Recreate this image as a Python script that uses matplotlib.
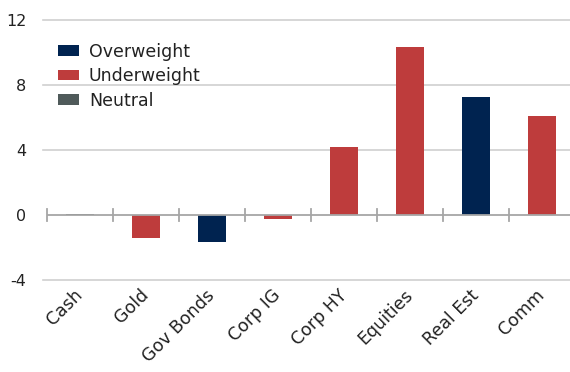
import matplotlib
matplotlib.use("Agg")
import matplotlib.pyplot as plt
from matplotlib.patches import Patch

# Positioning by asset class
categories = ["Cash", "Gold", "Gov Bonds", "Corp IG", "Corp HY", "Equities", "Real Est", "Comm"]
values = [0.05, -1.4, -1.64, -0.22, 4.18, 10.34, 7.26, 6.09]
stance = ["Neutral", "Underweight", "Overweight", "Underweight",
          "Underweight", "Underweight", "Overweight", "Underweight"]
y_ticks = [-4, 0, 4, 8, 12]

colors = {"Overweight": "#002350", "Underweight": "#BE3C3C", "Neutral": "#4F5A5A"}

plt.rcParams["font.family"] = ["DejaVu Sans"]
fig = plt.figure(figsize=(5.70, 3.72), dpi=100)
ax = fig.add_axes([47 / 570, 1 - 280 / 372, 528 / 570, 260 / 372])

x = list(range(len(categories)))
ax.bar(x, values, width=0.41, color=[colors[s] for s in stance], zorder=3)

ax.set_xlim(-0.5, len(categories) - 0.5)
ax.set_ylim(y_ticks[0], y_ticks[-1])
ax.set_yticks(y_ticks)
ax.set_yticklabels([str(v) for v in y_ticks])
# gridlines reach slightly left of the category axis
for v in y_ticks:
    if v != 0:
        ax.axhline(v, xmin=-0.008, xmax=1, color="#D0D0D0", linewidth=1.2,
                   zorder=0, clip_on=False)
ax.tick_params(axis="y", length=0, pad=15, labelsize=11.5, labelcolor="#222222")

# Category axis drawn at zero with boundary tick marks
ax.axhline(0, color="#A6A6A6", linewidth=1.3, zorder=4)
for b in range(len(categories) + 1):
    ax.plot([b - 0.5, b - 0.5], [-0.37, 0.37], color="#A6A6A6",
            linewidth=1.3, zorder=4, clip_on=False)

ax.set_xticks(x)
ax.set_xticklabels(categories, rotation=45, ha="right", va="center",
                   rotation_mode="anchor", fontsize=12.5, color="#222222")
ax.tick_params(axis="x", length=0, pad=9)

for side in ["top", "right", "left", "bottom"]:
    ax.spines[side].set_visible(False)

handles = [Patch(facecolor=colors[k]) for k in ["Overweight", "Underweight", "Neutral"]]
ax.legend(handles, ["Overweight", "Underweight", "Neutral"], loc="upper left",
          bbox_to_anchor=(-0.003, 0.96), frameon=False, fontsize=12.5,
          handlelength=1.25, handleheight=0.57, labelspacing=0.38,
          handletextpad=0.55, borderaxespad=0.3, labelcolor="#222222")

fig.savefig("out.png", dpi=100)
